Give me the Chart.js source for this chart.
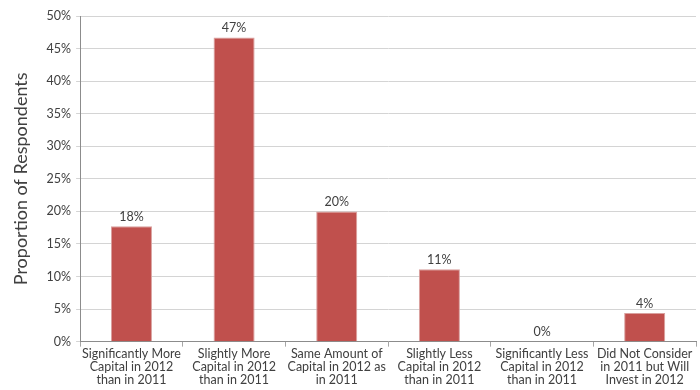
<!DOCTYPE html>
<html>
<head>
<meta charset="utf-8">
<script src="https://cdn.jsdelivr.net/npm/chart.js@4.4.0/dist/chart.umd.min.js"></script>
<style>
  html, body { margin: 0; padding: 0; background: #ffffff; }
  #wrap { width: 700px; height: 390px; }
</style>
</head>
<body>
<div id="wrap"><canvas id="chart"></canvas></div>
<script>
// Planned capital investment, 2012 vs 2011
const categories = [
    ['Significantly More', 'Capital in 2012', 'than in 2011'],
    ['Slightly More', 'Capital in 2012', 'than in 2011'],
    ['Same Amount of', 'Capital in 2012 as', 'in 2011'],
    ['Slightly Less', 'Capital in 2012', 'than in 2011'],
    ['Significantly Less', 'Capital in 2012', 'than in 2011'],
    ['Did Not Consider', 'in 2011 but Will', 'Invest in 2012']
];
const shares = [17.7, 46.7, 20.0, 11.1, 0.0, 4.4];
const yTicks = [0, 5, 10, 15, 20, 25, 30, 35, 40, 45, 50];

const FONT = "Lato, 'DejaVu Sans', sans-serif";
const TEXT = '#404040';

// Writes the rounded percentage above each bar
const valueLabels = {
    id: 'valueLabels',
    afterDatasetsDraw(chart) {
        const ctx = chart.ctx;
        const meta = chart.getDatasetMeta(0);
        ctx.save();
        ctx.font = '12.5px ' + FONT;
        ctx.fillStyle = TEXT;
        ctx.textAlign = 'center';
        ctx.textBaseline = 'bottom';
        meta.data.forEach((bar, i) => {
            ctx.fillText(Math.round(shares[i]) + '%', bar.x, bar.y - 3);
        });
        ctx.restore();
    }
};

new Chart(document.getElementById('chart'), {
    type: 'bar',
    data: {
        labels: categories,
        datasets: [{
            data: shares,
            backgroundColor: '#c0504d',
            borderColor: '#d9a09e',
            borderWidth: { top: 1, left: 1, right: 1, bottom: 0 },
            categoryPercentage: 1.0,
            barPercentage: 0.4
        }]
    },
    options: {
        responsive: true,
        maintainAspectRatio: false,
        animation: false,
        layout: { padding: { top: 16, right: 4, bottom: 2, left: 10 } },
        plugins: {
            legend: { display: false },
            tooltip: { enabled: false }
        },
        scales: {
            x: {
                grid: {
                    display: true,
                    drawOnChartArea: false,
                    offset: true,
                    tickLength: 5,
                    color: '#a6a6a6'
                },
                border: { color: '#8c8c8c', width: 1 },
                ticks: {
                    color: TEXT,
                    font: { family: FONT, size: 12.5, lineHeight: 1.05 },
                    maxRotation: 0,
                    autoSkip: false,
                    padding: 1
                }
            },
            y: {
                min: 0,
                max: 50,
                afterBuildTicks(axis) {
                    axis.ticks = yTicks.map(v => ({ value: v }));
                },
                grid: {
                    color: '#d4d4d4',
                    tickLength: 4,
                    drawTicks: true
                },
                border: { color: '#8c8c8c', width: 1 },
                ticks: {
                    color: TEXT,
                    font: { family: FONT, size: 12.5 },
                    padding: 5,
                    callback: v => v + '%'
                },
                title: {
                    display: true,
                    text: 'Proportion of Respondents',
                    color: TEXT,
                    font: { family: FONT, size: 18 },
                    padding: { top: 0, bottom: 10 }
                }
            }
        }
    },
    plugins: [valueLabels]
});
</script>
</body>
</html>
